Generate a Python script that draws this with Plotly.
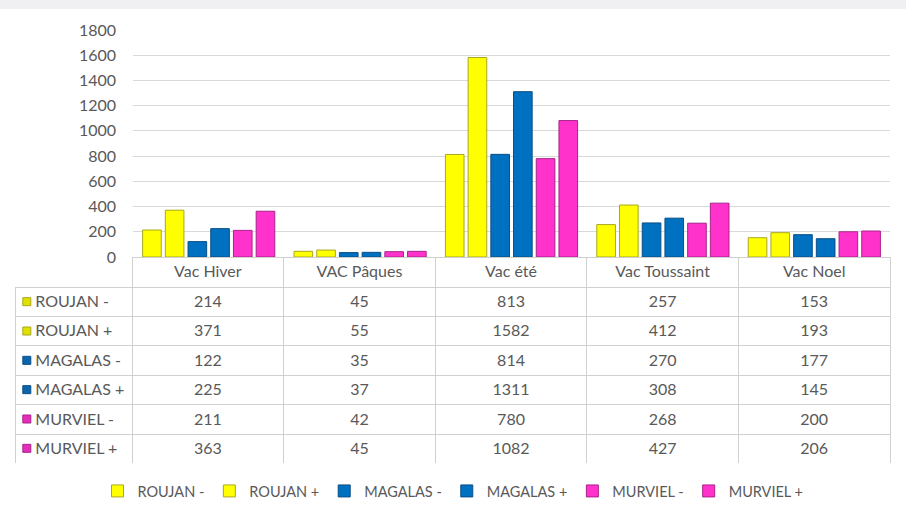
import plotly.graph_objects as go

categories = ["Vac Hiver", "VAC Pâques", "Vac été", "Vac Toussaint", "Vac Noel"]
series_names = ["ROUJAN -", "ROUJAN +", "MAGALAS -", "MAGALAS +", "MURVIEL -", "MURVIEL +"]
roujan_minus = [214, 45, 813, 257, 153]
roujan_plus = [371, 55, 1582, 412, 193]
magalas_minus = [122, 35, 814, 270, 177]
magalas_plus = [225, 37, 1311, 308, 145]
murviel_minus = [211, 42, 780, 268, 200]
murviel_plus = [363, 45, 1082, 427, 206]
y_ticks = [0, 200, 400, 600, 800, 1000, 1200, 1400, 1600, 1800]

series_values = [roujan_minus, roujan_plus, magalas_minus, magalas_plus, murviel_minus, murviel_plus]
colors = ["#FFFF00", "#FFFF00", "#0070C0", "#0070C0", "#FF33CC", "#FF33CC"]
edge = ["#A8A820", "#A8A820", "#0B4F86", "#0B4F86", "#A8238A", "#A8238A"]
key_colors = ["#E0E000", "#E0E000", "#0C64AD", "#0C64AD", "#E62DBA", "#E62DBA"]

W, H = 906, 511
def px_x(x):
    return x / W
def px_y(y):
    return (H - y) / H

FONT = "Lato, Carlito, 'Liberation Sans', sans-serif"
TXT = "#595959"
FS = 16
NB = "\u00a0"
CLEAR = "rgba(0,0,0,0)"

fig = go.Figure()
for name, vals, c, e in zip(series_names, series_values, colors, edge):
    fig.add_trace(go.Bar(
        name=name, x=categories, y=vals,
        marker=dict(color=c, line=dict(color=e, width=1)),
        xaxis="x", yaxis="y",
    ))

# colour keys of the data table rows (one per series, on their own axes)
fig.add_trace(go.Scatter(
    x=[0.1] * len(series_names), y=series_names, mode="markers",
    marker=dict(symbol="square", size=8, color=key_colors,
                line=dict(color=edge, width=1)),
    xaxis="x2", yaxis="y2", showlegend=False, hoverinfo="skip",
))

# data table (non-breaking spaces keep rows at their set height)
first_col = [NB * 3 + n.replace(" ", NB) for n in series_names]
header_vals = [""] + [c.replace(" ", NB) for c in categories]
cols = [first_col] + [[str(series_values[s][i]) for s in range(6)] for i in range(len(categories))]
grid = "#D0D0D0"
fig.add_trace(go.Table(
    domain=dict(x=[px_x(15), px_x(890)], y=[px_y(463), px_y(257)]),
    columnwidth=[117] + [151.5] * 5,
    header=dict(
        values=header_vals,
        height=30,
        align="center",
        fill_color=[CLEAR] + ["white"] * 5,
        line=dict(color=[CLEAR] + [grid] * 5, width=1),
        font=dict(family=FONT, size=FS, color=TXT),
    ),
    cells=dict(
        values=cols,
        height=29.4,
        align=["left"] + ["center"] * 5,
        fill_color=[CLEAR] + ["white"] * 5,
        line=dict(color=grid, width=1),
        font=dict(family=FONT, size=FS, color=TXT),
    ),
))

fig.update_layout(
    width=W, height=H,
    margin=dict(l=0, r=0, t=0, b=0, autoexpand=False),
    paper_bgcolor="white", plot_bgcolor="white",
    barmode="group", bargap=0.1, bargroupgap=0.18,
    font=dict(family=FONT, size=FS, color=TXT),
    xaxis=dict(domain=[px_x(133), px_x(890)], showticklabels=False, showgrid=False,
               zeroline=False, showline=False, ticks=""),
    yaxis=dict(domain=[px_y(257), px_y(30)], range=[0, 1800], tickvals=y_ticks,
               showgrid=True, gridcolor="#D9D9D9", gridwidth=1, zeroline=False,
               showline=False, ticks="", ticklabelstandoff=16,
               tickfont=dict(family=FONT, size=FS, color=TXT)),
    xaxis2=dict(domain=[px_x(15), px_x(133)], range=[0, 1], visible=False, anchor="y2"),
    yaxis2=dict(domain=[px_y(463), px_y(287)], type="category",
                categoryorder="array", categoryarray=series_names,
                range=[len(series_names) - 0.5, -0.5], visible=False, anchor="x2"),
    legend=dict(orientation="h", x=0.5, xanchor="center", y=px_y(491), yanchor="middle",
                font=dict(family=FONT, size=14.5, color=TXT), itemwidth=30,
                traceorder="normal"),
    shapes=[dict(type="rect", xref="paper", yref="paper", x0=0, x1=1, y0=px_y(9), y1=1,
                 fillcolor="#F0F0F2", line=dict(width=0), layer="below")],
    showlegend=True,
)

fig.write_html("out.html", config={"displayModeBar": False},
               post_script="document.body.style.margin='0px';")
